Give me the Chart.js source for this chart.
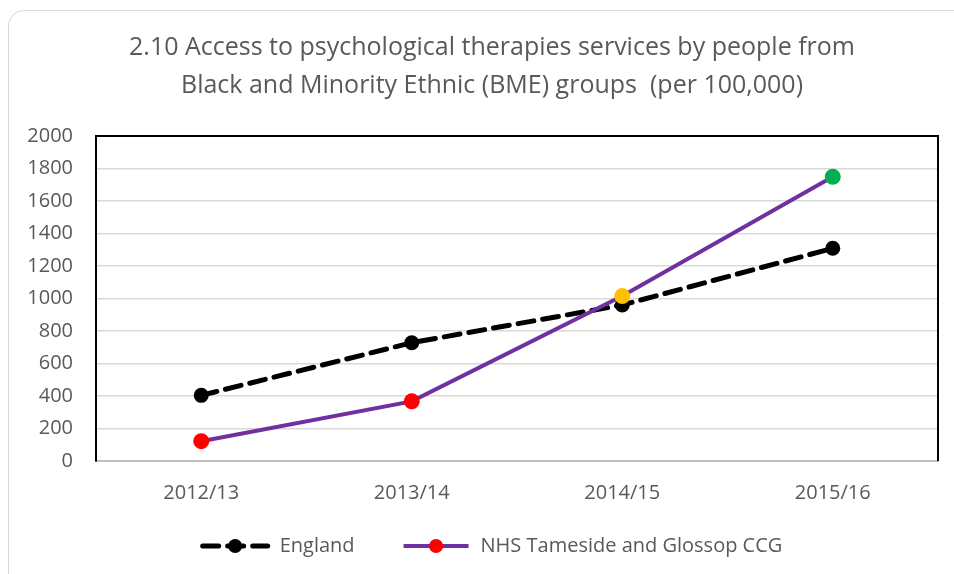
<!DOCTYPE html>
<html>
<head>
<meta charset="utf-8">
<script src="https://cdn.jsdelivr.net/npm/chart.js@4"></script>
<style>
html, body { margin: 0; padding: 0; background: #fff; overflow: hidden; }
#frame { position: absolute; left: 8px; top: 10px; width: 980px; height: 600px; border: 1.5px solid #d9d9d9; border-radius: 16px; }
#wrap { position: absolute; left: 0; top: 0; width: 954px; height: 574px; }
</style>
</head>
<body>
<div id="frame"></div>
<div id="wrap"><canvas id="lineChart" width="954" height="574"></canvas></div>
<script>
// data
var labels = ["2012/13", "2013/14", "2014/15", "2015/16"];
var englandValues = [404, 728, 960, 1309];
var tamesideValues = [122, 367, 1015, 1749];
var tamesidePointColors = ["#ff0000", "#ff0000", "#ffc000", "#00b050"];
var seriesNames = ["England", "NHS Tameside and Glossop CCG"];
var legendDotColors = ["#000000", "#ff0000"];
var yMin = 0, yMax = 2000, yStep = 200;
var titleLines = [
  "2.10 Access to psychological therapies services by people from",
  "Black and Minority Ethnic (BME) groups  (per 100,000)"
];

var textGrey = "#595959";
var markerLen = 69;   // legend line sample length
var legendGap = 37;   // extra space before each legend item
Chart.defaults.font.family = "'Open Sans', sans-serif";
Chart.defaults.color = textGrey;

// black frame on top/right of plot area
var plotBorder = {
  id: "plotBorder",
  afterLayout: function (chart) {
    // small nudges so title / legend sit where Excel put them
    chart.legend.left -= 10;
    chart.legend.right -= 10;
    chart.titleBlock.left += 9;
    chart.titleBlock.right += 9;
  },
  beforeDatasetsDraw: function (chart) {
    var a = chart.chartArea, ctx = chart.ctx;
    ctx.save();
    ctx.strokeStyle = "#000";
    ctx.lineWidth = 2;
    ctx.beginPath();
    ctx.moveTo(a.left, a.top);
    ctx.lineTo(a.right, a.top);
    ctx.lineTo(a.right, a.bottom);
    ctx.stroke();
    ctx.restore();
  }
};

// legend: line + dot marker like Excel
var legendMarks = {
  id: "legendMarks",
  afterDraw: function (chart) {
    var lg = chart.legend, ctx = chart.ctx;
    lg.legendHitBoxes.forEach(function (box, i) {
      var idx = lg.legendItems[i].datasetIndex;
      var ds = chart.data.datasets[idx];
      var y = box.top + box.height / 2;
      var x0 = box.left + legendGap;
      ctx.save();
      ctx.strokeStyle = ds.borderColor;
      ctx.lineWidth = ds.borderWidth;
      ctx.lineCap = ds.borderCapStyle || "butt";
      ctx.setLineDash(ds.borderDash || []);
      ctx.beginPath();
      ctx.moveTo(x0 + 2, y);
      ctx.lineTo(x0 + markerLen - 2, y);
      ctx.stroke();
      ctx.setLineDash([]);
      ctx.fillStyle = legendDotColors[idx];
      ctx.beginPath();
      ctx.arc(x0 + markerLen / 2, y, 7, 0, 2 * Math.PI);
      ctx.fill();
      ctx.restore();
    });
  }
};

var ctx = document.getElementById("lineChart").getContext("2d");
var lineChart = new Chart(ctx, {
  type: "line",
  data: {
    labels: labels,
    datasets: [{
      label: seriesNames[0],
      data: englandValues,
      order: 2,
      borderColor: "#000000",
      backgroundColor: "#000000",
      borderWidth: 5,
      borderDash: [16, 9],
      borderCapStyle: "round",
      pointRadius: 7.5,
      pointBorderWidth: 0,
      pointBackgroundColor: "#000000",
      tension: 0
    }, {
      label: seriesNames[1],
      data: tamesideValues,
      order: 1,
      borderColor: "#7030a0",
      backgroundColor: "#7030a0",
      borderWidth: 4,
      pointRadius: 8,
      pointBorderWidth: 0,
      pointBackgroundColor: tamesidePointColors,
      pointBorderColor: tamesidePointColors,
      tension: 0
    }]
  },
  options: {
    responsive: false,
    animation: false,
    layout: { padding: { left: 28, right: 16, top: 0, bottom: 8 } },
    plugins: {
      tooltip: { enabled: false },
      title: {
        display: true,
        text: titleLines,
        color: textGrey,
        font: { size: 25, weight: "normal", lineHeight: 1.52 },
        padding: { top: 29, bottom: 31 }
      },
      legend: {
        position: "bottom",
        labels: {
          boxWidth: markerLen + legendGap,
          boxHeight: 14,
          padding: 10,
          color: textGrey,
          font: { size: 20 },
          sort: function (a, b) { return a.datasetIndex - b.datasetIndex; },
          generateLabels: function (chart) {
            return Chart.defaults.plugins.legend.labels.generateLabels(chart).map(function (it) {
              it.fillStyle = "rgba(0,0,0,0)";
              it.strokeStyle = "rgba(0,0,0,0)";
              it.lineWidth = 0;
              return it;
            });
          }
        }
      }
    },
    scales: {
      x: {
        offset: true,
        grid: { display: false, drawTicks: false, offset: true },
        border: { color: "#bfbfbf", width: 2 },
        ticks: { padding: 20, font: { size: 20 }, color: textGrey },
        afterFit: function (scale) { scale.height = 65; }
      },
      y: {
        min: yMin,
        max: yMax,
        grid: { color: "#d9d9d9", lineWidth: 1.5, drawTicks: false },
        border: { color: "#000000", width: 2 },
        ticks: {
          stepSize: yStep, padding: 23, font: { size: 20 }, color: textGrey,
          callback: function (v) { return String(v); }
        },
        afterFit: function (scale) { scale.width = 68; }
      }
    }
  },
  plugins: [plotBorder, legendMarks]
});
</script>
</body>
</html>
